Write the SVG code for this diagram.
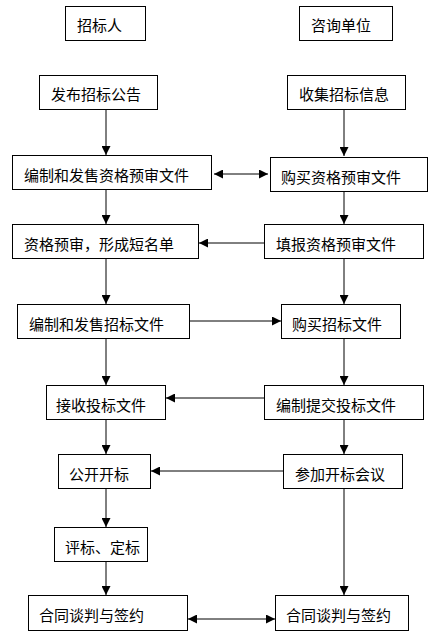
<svg xmlns="http://www.w3.org/2000/svg" width="428" height="642" viewBox="0 0 428 642">
<style>
.box{fill:#fff;stroke:#000;stroke-width:1}
.t{font-family:"Noto Sans CJK SC","Noto Sans CJK JP",sans-serif;font-size:15px;fill:#000;dominant-baseline:central}
.c{stroke:#000;stroke-width:1;fill:none}
</style>
<defs>
<marker id="ah" viewBox="0 0 10 10" refX="10" refY="5" markerWidth="9" markerHeight="9" markerUnits="userSpaceOnUse" orient="auto-start-reverse">
<path d="M0,0 L10,5 L0,10 z" fill="#000"/>
</marker>
</defs>
<rect width="428" height="642" fill="#fff"/>
<g id="connectors">
<line class="c" x1="106" y1="109" x2="106" y2="155" marker-end="url(#ah)"/>
<line class="c" x1="344" y1="109" x2="344" y2="156" marker-end="url(#ah)"/>
<line class="c" x1="214" y1="174" x2="268" y2="174" marker-start="url(#ah)" marker-end="url(#ah)"/>
<line class="c" x1="106" y1="189" x2="106" y2="224" marker-end="url(#ah)"/>
<line class="c" x1="344" y1="191" x2="344" y2="224" marker-end="url(#ah)"/>
<line class="c" x1="264" y1="243" x2="199" y2="243" marker-end="url(#ah)"/>
<line class="c" x1="106" y1="258" x2="106" y2="304" marker-end="url(#ah)"/>
<line class="c" x1="344" y1="258" x2="344" y2="304" marker-end="url(#ah)"/>
<line class="c" x1="190" y1="321" x2="281" y2="321" marker-end="url(#ah)"/>
<line class="c" x1="106" y1="338" x2="106" y2="385" marker-end="url(#ah)"/>
<line class="c" x1="344" y1="338" x2="344" y2="385" marker-end="url(#ah)"/>
<line class="c" x1="264" y1="398" x2="166" y2="398" marker-end="url(#ah)"/>
<line class="c" x1="106" y1="419" x2="106" y2="454" marker-end="url(#ah)"/>
<line class="c" x1="344" y1="419" x2="344" y2="454" marker-end="url(#ah)"/>
<line class="c" x1="283" y1="471" x2="151" y2="471" marker-end="url(#ah)"/>
<line class="c" x1="106" y1="488" x2="106" y2="527" marker-end="url(#ah)"/>
<line class="c" x1="344" y1="488" x2="344" y2="595" marker-end="url(#ah)"/>
<line class="c" x1="106" y1="561" x2="106" y2="595" marker-end="url(#ah)"/>
<line class="c" x1="188" y1="619" x2="275" y2="619" marker-start="url(#ah)" marker-end="url(#ah)"/>
</g>
<g id="n1"><rect class="box" x="65.5" y="6.5" width="80" height="34"/><text class="t" x="77" y="24">招标人</text></g>
<g id="n2"><rect class="box" x="299.5" y="6.5" width="93" height="34"/><text class="t" x="311" y="24">咨询单位</text></g>
<g id="n3"><rect class="box" x="39.5" y="75.5" width="118" height="34"/><text class="t" x="51" y="93">发布招标公告</text></g>
<g id="n4"><rect class="box" x="287.5" y="75.5" width="118" height="34"/><text class="t" x="299" y="93">收集招标信息</text></g>
<g id="n5"><rect class="box" x="12.5" y="155.5" width="199" height="34"/><text class="t" x="24" y="174">编制和发售资格预审文件</text></g>
<g id="n6"><rect class="box" x="270.5" y="157.5" width="157" height="34"/><text class="t" x="281" y="176">购买资格预审文件</text></g>
<g id="n7"><rect class="box" x="12.5" y="224.5" width="186" height="34"/><text class="t" x="24" y="243">资格预审，形成短名单</text></g>
<g id="n8"><rect class="box" x="264.5" y="224.5" width="159" height="34"/><text class="t" x="276" y="243">填报资格预审文件</text></g>
<g id="n9"><rect class="box" x="17.5" y="304.5" width="172" height="34"/><text class="t" x="29" y="323">编制和发售招标文件</text></g>
<g id="n10"><rect class="box" x="281.5" y="304.5" width="119" height="34"/><text class="t" x="292" y="323">购买招标文件</text></g>
<g id="n11"><rect class="box" x="46.5" y="385.5" width="119" height="34"/><text class="t" x="56" y="404">接收投标文件</text></g>
<g id="n12"><rect class="box" x="264.5" y="385.5" width="159" height="34"/><text class="t" x="276" y="404">编制提交投标文件</text></g>
<g id="n13"><rect class="box" x="58.5" y="454.5" width="92" height="34"/><text class="t" x="69" y="473">公开开标</text></g>
<g id="n14"><rect class="box" x="283.5" y="454.5" width="119" height="34"/><text class="t" x="295" y="473">参加开标会议</text></g>
<g id="n15"><rect class="box" x="54.5" y="527.5" width="93" height="34"/><text class="t" x="65" y="546">评标、定标</text></g>
<g id="n16"><rect class="box" x="28.5" y="595.5" width="159" height="35"/><text class="t" x="39" y="614">合同谈判与签约</text></g>
<g id="n17"><rect class="box" x="275.5" y="595.5" width="133" height="35"/><text class="t" x="286" y="614">合同谈判与签约</text></g>
</svg>
